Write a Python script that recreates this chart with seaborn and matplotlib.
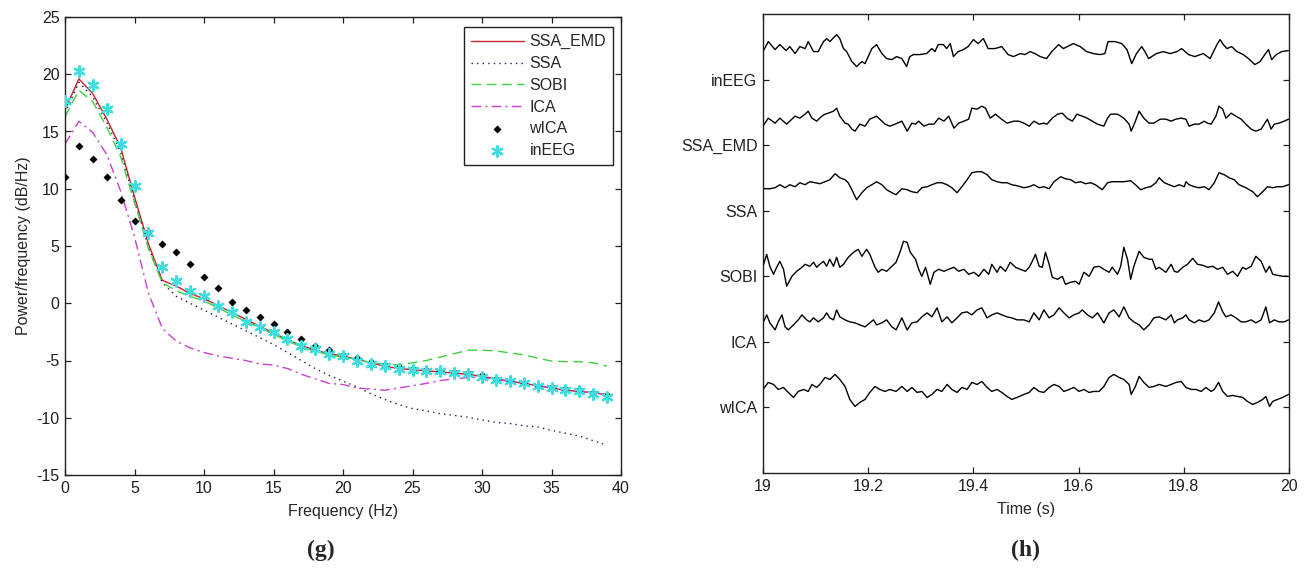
import numpy as np
import pandas as pd
import matplotlib
matplotlib.use("Agg")
import matplotlib.pyplot as plt
import seaborn as sns

# ---------------- Left panel: power spectral density ----------------
freq_hz = list(range(40))
psd_ssa_emd = [16.9, 19.6, 18.3, 16.1, 13.6, 9.3, 5.2, 2.0, 1.5, 0.85, 0.4,
               -0.2, -0.8, -1.4, -2.0, -2.6, -3.2, -3.7, -4.1, -4.4,
               -4.6, -4.9, -5.2, -5.5, -5.7, -5.8, -5.9, -6.0, -6.1, -6.2,
               -6.4, -6.6, -6.8, -7.0, -7.2, -7.4, -7.6, -7.7, -7.8, -8.0]
psd_ssa = [16.6, 19.3, 18.0, 15.8, 13.2, 9.0, 4.9, 1.8, 0.6, 0.0, -0.6,
           -1.2, -1.8, -2.4, -3.0, -3.6, -4.3, -5.0, -5.7, -6.3,
           -6.8, -7.3, -7.9, -8.4, -8.85, -9.2, -9.4, -9.65, -9.8, -9.95,
           -10.2, -10.4, -10.5, -10.7, -10.8, -11.1, -11.35, -11.6, -12.0, -12.4]
psd_sobi = [16.3, 18.6, 17.6, 15.4, 12.8, 8.8, 4.8, 1.8, 1.1, 0.6, 0.2,
            -0.4, -1.0, -1.6, -2.1, -2.7, -3.3, -3.8, -4.2, -4.5,
            -4.7, -4.9, -5.2, -5.3, -5.4, -5.2, -5.0, -4.7, -4.4, -4.1,
            -4.1, -4.15, -4.35, -4.5, -4.8, -5.05, -5.1, -5.1, -5.2, -5.5]
psd_ica = [13.9, 15.9, 14.9, 13.0, 9.8, 5.8, 0.9, -2.2, -3.3, -3.9, -4.3,
           -4.6, -4.8, -5.0, -5.3, -5.4, -5.7, -6.2, -6.6, -7.0,
           -7.1, -7.4, -7.5, -7.6, -7.4, -7.2, -7.0, -6.75, -6.6, -6.5,
           -6.45, -6.7, -6.8, -7.0, -7.2, -7.4, -7.6, -7.7, -7.8, -8.0]
psd_wica = [11.0, 13.7, 12.6, 11.0, 9.05, 7.2, 6.2, 5.2, 4.5, 3.45, 2.3,
            1.3, 0.15, -0.55, -1.2, -1.8, -2.5, -3.1, -3.7, -4.1,
            -4.5, -4.8, -5.1, -5.4, -5.6, -5.7, -5.8, -5.9, -6.0, -6.1,
            -6.3, -6.6, -6.8, -7.0, -7.2, -7.3, -7.5, -7.6, -7.8, -8.0]
psd_ineeg = [17.7, 20.3, 19.1, 17.0, 13.9, 10.2, 6.1, 3.2, 1.9, 1.1, 0.6,
             -0.2, -0.8, -1.6, -2.1, -2.5, -3.1, -3.7, -4.0, -4.4,
             -4.65, -5.0, -5.3, -5.5, -5.7, -5.8, -5.9, -5.9, -6.1, -6.2,
             -6.45, -6.7, -6.8, -7.0, -7.2, -7.4, -7.6, -7.7, -7.9, -8.15]

# ---------------- Right panel: time traces (ms after 19 s, amplitude in uV) ----------------
channel_names = ["wICA", "ICA", "SOBI", "SSA", "SSA_EMD", "inEEG"]

ineeg_ms = [0, 10, 23, 32, 44, 51, 61, 70, 80, 86, 96, 105, 115, 121, 127, 140, 146, 153, 159, 169,
            178, 188, 194, 207, 216, 226, 235, 245, 254, 264, 273, 279, 286, 298, 311, 321, 327, 333, 343, 349,
            356, 362, 371, 381, 390, 400, 409, 419, 428, 441, 454, 466, 476, 489, 498, 508, 517, 527, 539, 549,
            562, 571, 590, 603, 615, 628, 641, 650, 656, 669, 682, 692, 701, 710, 720, 726, 733, 748, 761, 774,
            787, 796, 809, 821, 837, 850, 863, 869, 875, 882, 891, 901, 913, 923, 935, 945, 954, 961, 967, 976,
            986, 999]
ineeg_uv = [28, 38, 30, 35, 29, 33, 26, 33, 31, 38, 28, 28, 38, 41, 38, 45, 41, 31, 28, 18,
            13, 18, 16, 31, 35, 26, 21, 20, 23, 21, 13, 23, 25, 25, 26, 31, 28, 35, 35, 31,
            36, 23, 28, 30, 33, 40, 36, 41, 31, 31, 33, 25, 23, 26, 25, 28, 26, 23, 21, 28,
            35, 31, 36, 33, 28, 26, 25, 26, 38, 38, 36, 30, 16, 26, 33, 28, 21, 26, 28, 26,
            28, 31, 25, 23, 26, 21, 35, 40, 35, 31, 33, 28, 25, 21, 15, 18, 25, 30, 20, 25,
            28, 29]

ssaemd_ms = [0, 10, 23, 32, 45, 55, 61, 70, 80, 86, 93, 102, 112, 118, 124, 134, 140, 146, 156, 162,
             169, 175, 184, 194, 203, 216, 226, 232, 241, 251,
             264, 274, 283, 290, 296, 306, 315, 325, 334, 344, 353, 363, 372, 382, 391, 397, 407, 416, 423, 432,
             442, 451, 464, 477, 486,
             496, 506, 515, 525, 534, 540, 550, 560, 569, 578, 588, 597, 607, 616, 626, 636, 648, 655, 661, 674,
             686, 696, 700, 708, 715, 724, 734, 743, 755,
             766, 776, 785, 795, 804, 810, 820, 829, 839, 845, 852, 861, 867, 874, 880, 890, 899, 909, 918, 928,
             937, 947, 953, 959, 966, 972, 981, 991, 999]
ssaemd_uv = [19, 27, 22, 27, 21, 26, 29, 27, 31, 34, 27, 24, 29, 31, 32, 34, 37, 29, 22, 21,
             16, 14, 21, 19, 26, 29, 24, 21, 19, 21,
             24, 14, 22, 21, 24, 19, 21, 21, 27, 24, 29, 17, 22, 24, 26, 37, 36, 39, 37, 27,
             31, 27, 22, 24, 24,
             22, 19, 24, 21, 22, 21, 27, 31, 32, 27, 24, 31, 29, 27, 24, 21, 19, 27, 31, 31,
             27, 21, 14, 24, 34, 27, 22, 22, 26,
             26, 24, 26, 27, 26, 19, 21, 21, 24, 22, 21, 29, 39, 36, 27, 32, 29, 26, 21, 16,
             14, 16, 21, 26, 16, 21, 22, 24, 26]

ssa_ms = [0, 13, 23, 32, 42, 51, 61, 70, 80, 89, 99, 108, 118, 127, 137, 146, 156, 162, 169, 178,
          188, 197, 207, 216, 226, 235, 245, 253,
          264, 274, 283, 293, 302, 312, 321, 331, 340, 350, 359, 369, 378, 388, 397, 407, 416, 426, 435, 445,
          454, 464, 473, 483,
          496, 506, 515, 525, 534, 544, 553, 566, 575, 585, 594, 604, 613, 623, 632, 645, 655, 664, 677, 686,
          699, 708, 718, 728, 737, 747, 753,
          763, 772, 782, 791, 801, 804, 810, 820, 829, 839, 848, 858, 867, 877, 886, 896, 905, 918, 931, 940,
          950, 959, 969, 978, 988, 999]
ssa_uv = [22, 22, 23, 26, 23, 26, 24, 28, 26, 29, 28, 27, 29, 31, 37, 33, 31, 28, 21, 11,
          18, 23, 26, 29, 26, 21, 18, 16,
          22, 21, 19, 18, 23, 24, 26, 28, 28, 26, 23, 18, 24, 31, 38, 39, 39, 36, 31, 29,
          28, 28, 26, 25,
          23, 24, 26, 23, 24, 22, 29, 34, 32, 31, 28, 29, 27, 28, 26, 21, 28, 29, 29, 29,
          30, 26, 21, 23, 24, 28, 33,
          28, 26, 24, 26, 24, 29, 26, 24, 23, 24, 21, 28, 38, 36, 33, 31, 26, 23, 19, 14,
          19, 24, 23, 24, 24, 26]

sobi_ms = [0, 7, 13, 20, 26, 32, 39, 45, 55, 64, 74, 80, 89, 96, 102, 108, 115, 121, 127, 134,
           140, 146, 153, 162, 172, 181, 188, 197, 203, 213, 219, 226, 235, 245, 253,
           261, 267, 274, 280, 290, 296, 302, 309, 318, 325, 334, 344, 353, 363, 372, 382, 391, 401, 410, 420,
           429, 435, 445, 451, 461, 470, 480, 489, 499,
           506, 512, 518, 525, 531, 537, 544, 550, 560, 569, 575, 585, 594, 601, 610, 620, 629, 639, 648, 658,
           664, 674, 680, 686, 693, 699, 705, 715, 724, 734, 740, 747, 753,
           766, 776, 782, 788, 798, 807, 817, 826, 836, 845, 855, 864, 874, 883, 893, 902, 912, 918, 928, 937,
           947, 956, 963, 969, 978, 988, 998]
sobi_uv = [10, 22, 10, 2, 9, 15, 7, -10, 0, 5, 9, 12, 10, 14, 9, 12, 15, 10, 17, 10,
           19, 9, 12, 19, 24, 27, 20, 27, 22, 9, 4, 7, 5, 10, 14,
           25, 35, 34, 24, 17, 7, 0, 9, -8, 4, 7, 5, 7, 9, 5, 7, 2, 4, 0, 7,
           2, 12, 4, 10, 5, 14, 9, 7, 5,
           9, 15, 22, 10, 9, 24, 12, -1, -3, 0, -8, -6, -5, -8, 4, 0, 9, 10, 7, 4,
           9, 2, 10, 29, 17, -3, 10, 25, 19, 17, 17, 7, 9,
           4, 12, 5, 4, 9, 12, 18, 12, 11, 9, 10, 7, 9, 2, 5, 0, 9, 7, 10, 20,
           15, 4, 10, 2, 1, 0, 0]

ica_ms = [0, 7, 13, 23, 29, 36, 42, 48, 58, 67, 74, 83, 89, 96, 105, 115, 121, 127, 134, 140,
          146, 156, 165, 175, 184, 194, 203, 210, 216, 226, 235, 245, 253,
          264, 274, 283, 293, 302, 312, 321, 331, 340, 350, 359, 369, 378, 388, 397, 407, 416, 426, 435, 445,
          454, 464, 473, 483,
          496, 506, 515, 525, 534, 544, 553, 563, 572, 582, 591, 601, 607, 617, 626, 636, 648, 658, 667, 677,
          686, 696, 705, 715, 724, 734, 743, 753,
          766, 776, 782, 788, 798, 804, 810, 820, 829, 839, 848, 858, 866, 874, 880, 890, 899, 909, 918, 928,
          937, 947, 956, 963, 972, 981, 991, 999]
ica_uv = [19, 27, 19, 12, 20, 27, 15, 12, 17, 22, 27, 22, 20, 24, 20, 24, 29, 24, 22, 32,
          25, 22, 20, 19, 17, 15, 19, 22, 17, 19, 22, 15, 12,
          24, 12, 19, 20, 25, 29, 25, 34, 20, 25, 19, 24, 29, 30, 27, 32, 34, 24, 27, 29,
          27, 25, 24, 22,
          22, 20, 29, 22, 32, 24, 27, 34, 29, 24, 27, 29, 32, 27, 24, 29, 19, 29, 32, 25,
          35, 24, 20, 17, 12, 17, 24, 25,
          22, 27, 19, 22, 24, 27, 22, 19, 22, 20, 22, 29, 40, 30, 25, 27, 24, 20, 20, 22,
          19, 22, 35, 19, 22, 20, 20, 22]

wica_ms = [0, 10, 20, 29, 39, 48, 58, 67, 77, 86, 93, 102, 108, 118, 127, 137, 146, 156, 165, 175,
           184, 194, 203, 213, 222, 232, 241, 253,
           264, 274, 283, 293, 302, 312, 321, 331, 340, 350, 359, 369, 378, 388, 397, 407, 416, 426, 435, 445,
           454, 464, 473, 483,
           496, 506, 515, 525, 534, 544, 553, 563, 572, 582, 591, 601, 610, 620, 629, 639, 648, 658, 667, 677,
           686, 696, 700, 708, 715, 724, 734, 743, 753,
           766, 776, 785, 795, 804, 814, 823, 833, 842, 852, 858, 866, 874, 883, 893, 902, 912, 921, 931, 940,
           950, 956, 963, 969, 978, 988, 999]
wica_uv = [18, 25, 23, 18, 20, 15, 10, 16, 18, 16, 23, 20, 23, 30, 28, 33, 28, 21, 8, 1,
           5, 8, 15, 21, 18, 16, 18, 16,
           21, 16, 20, 15, 16, 10, 13, 18, 16, 23, 18, 15, 20, 18, 25, 23, 26, 20, 16, 18,
           15, 11, 8, 10,
           13, 15, 20, 16, 15, 20, 23, 21, 16, 18, 20, 16, 18, 15, 16, 16, 21, 30, 33, 30,
           28, 23, 13, 21, 31, 25, 20, 21, 23,
           21, 23, 25, 26, 20, 18, 18, 16, 20, 16, 18, 25, 16, 11, 12, 11, 10, 6, 3, 5,
           8, 11, 1, 6, 8, 10, 13]

# ---------------- Styling ----------------
sns.set_theme(style="ticks")
plt.rcParams["font.family"] = ["Liberation Sans", "DejaVu Sans"]
plt.rcParams["axes.unicode_minus"] = False
FS = 11.5

fig = plt.figure(figsize=(13.06, 5.68), dpi=100)
ax1 = fig.add_axes([65 / 1306, (568 - 475) / 568, 556 / 1306, 458 / 568])
ax2 = fig.add_axes([763 / 1306, (568 - 473) / 568, 526 / 1306, 459 / 568])

red = "#c4222e"
green = "#3fcf3f"
magenta = "#cc3fcc"
cyan = "#3fdede"

sns.lineplot(x=freq_hz, y=psd_ssa_emd, ax=ax1, color=red, lw=1.0, label="SSA_EMD")
sns.lineplot(x=freq_hz, y=psd_ssa, ax=ax1, color="#202050", lw=1.0,
             linestyle=(0, (1, 3)), label="SSA")
sns.lineplot(x=freq_hz, y=psd_sobi, ax=ax1, color=green, lw=1.0,
             linestyle=(0, (7, 4)), label="SOBI")
sns.lineplot(x=freq_hz, y=psd_ica, ax=ax1, color=magenta, lw=1.0,
             linestyle=(0, (7, 3, 1.5, 3)), label="ICA")
sns.scatterplot(x=freq_hz, y=psd_wica, ax=ax1, color="black", marker="D", s=14,
                edgecolor="black", linewidth=0.3, label="wICA", zorder=3)
sns.scatterplot(x=freq_hz, y=psd_ineeg, ax=ax1, color=cyan, marker=(6, 2, 0), s=60,
                linewidth=1.6, label="inEEG", zorder=4)

ax1.set_xlim(0, 40)
ax1.set_ylim(-15, 25)
ax1.set_xticks(range(0, 41, 5))
ax1.set_yticks(range(-15, 26, 5))
ax1.set_xlabel("Frequency (Hz)", fontsize=FS, labelpad=6)
ax1.set_ylabel("Power/frequency (dB/Hz)", fontsize=FS, labelpad=4)

handles, labels = ax1.get_legend_handles_labels()
leg = ax1.legend(handles, labels, loc="upper right", bbox_to_anchor=(0.986, 0.978),
                 borderaxespad=0, fontsize=FS, frameon=True, fancybox=False,
                 edgecolor="#202020", framealpha=1, handlelength=3.3,
                 handletextpad=0.35, labelspacing=0.42, borderpad=0.45,
                 scatterpoints=1)
leg.get_frame().set_linewidth(1.0)

# Right panel traces
scale_uv = 65.6
traces = {
    "inEEG": (ineeg_ms, ineeg_uv),
    "SSA_EMD": (ssaemd_ms, ssaemd_uv),
    "SSA": (ssa_ms, ssa_uv),
    "SOBI": (sobi_ms, sobi_uv),
    "ICA": (ica_ms, ica_uv),
    "wICA": (wica_ms, wica_uv),
}
for offset, name in enumerate(channel_names, start=1):
    ms, uv = traces[name]
    t = 19 + np.asarray(ms, dtype=float) / 1000.0
    y = offset + np.asarray(uv, dtype=float) / scale_uv
    sns.lineplot(x=t, y=y, ax=ax2, color="black", lw=1.0, estimator=None,
                 sort=False, legend=False)

ax2.set_xlim(19, 20)
ax2.set_ylim(0, 7)
ax2.set_xticks([19, 19.2, 19.4, 19.6, 19.8, 20])
ax2.set_xticklabels(["19", "19.2", "19.4", "19.6", "19.8", "20"])
ax2.set_yticks(range(1, 7))
ax2.set_yticklabels(channel_names)
ax2.set_xlabel("Time (s)", fontsize=FS, labelpad=6)
ax2.set_ylabel("")

for ax in (ax1, ax2):
    ax.tick_params(direction="in", top=True, right=True, length=4, width=0.9,
                   labelsize=FS, pad=4, color="#202020", labelcolor="#202020")
    for sp in ax.spines.values():
        sp.set_visible(True)
        sp.set_linewidth(1.0)
        sp.set_color("#202020")
    ax.set_facecolor("white")
    ax.grid(False)

fig.text(321 / 1306, 1 - 550 / 568, "(g)", ha="center", va="center",
         fontsize=17, fontweight="bold", family="Liberation Serif")
fig.text(1025 / 1306, 1 - 550 / 568, "(h)", ha="center", va="center",
         fontsize=17, fontweight="bold", family="Liberation Serif")

fig.savefig("out.png", dpi=100, facecolor="white")
